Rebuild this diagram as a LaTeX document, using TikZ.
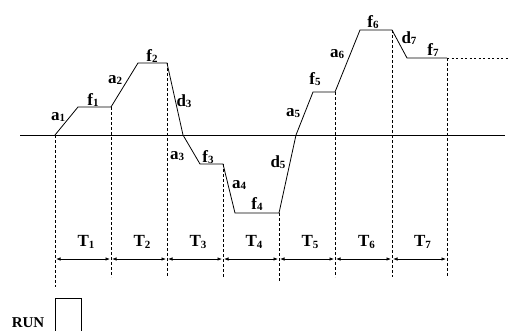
\documentclass[tikz,border=0pt]{standalone}
\usepackage{fontspec}
\setmainfont{Liberation Serif}
\usetikzlibrary{arrows.meta, positioning, calc}
\tikzset{
  profileline/.style={line width=0.8pt},
  holdline/.style={line width=0.6pt, dash pattern=on 2pt off 2.5pt},
  guideline/.style={line width=0.5pt, dash pattern=on 2.5pt off 2.5pt},
  spanarrow/.style={
    {Latex[length=4.5pt,width=3.5pt]}-{Latex[length=4.5pt,width=3.5pt]},
    line width=0.7pt, shorten <=1pt, shorten >=1pt
  },
  seglabel/.style={font=\bfseries\fontsize{17}{17}\selectfont, inner sep=0pt},
  spanlabel/.style={seglabel, midway, yshift=17pt, xshift=3pt},
  runbox/.style={draw, line width=0.6pt, minimum width=26pt,
    minimum height=40pt, inner sep=0pt, anchor=north west},
}
\newcommand{\seg}[2]{#1\raisebox{-0.2ex}{\fontsize{11}{11}\selectfont #2}}

\begin{document}
\begin{tikzpicture}[x=1pt, y=-1pt]
  \useasboundingbox (0,0) rectangle (510,330);

  % Profile corners
  \coordinate (p0) at (55,135);
  \coordinate (p1) at (78,107);
  \coordinate (p2) at (111,107);
  \coordinate (p3) at (138,63);
  \coordinate (p4) at (167,63);
  \coordinate (p5) at (183,135);
  \coordinate (p6) at (200,164);
  \coordinate (p7) at (223,164);
  \coordinate (p8) at (235,213);
  \coordinate (p9) at (279,213);
  \coordinate (p10) at (296,135);
  \coordinate (p11) at (313,92);
  \coordinate (p12) at (335,92);
  \coordinate (p13) at (360,30);
  \coordinate (p14) at (392,30);
  \coordinate (p15) at (407,58);
  \coordinate (p16) at (447,58);
  \coordinate (hold) at (510,58);

  % Axis
  \coordinate (axisL) at (20,135);
  \coordinate (axisR) at (505,135);
  \draw[profileline] (axisL) -- (axisR);

  % Profile
  \draw[profileline] (p0) -- (p1) -- (p2) -- (p3) -- (p4) -- (p5) -- (p6)
    -- (p7) -- (p8) -- (p9) -- (p10) -- (p11) -- (p12) -- (p13) -- (p14)
    -- (p15) -- (p16);
  \draw[holdline] (p16) -- (hold);

  % Segment labels
  \node[seglabel] (a1) at (58,117) {\seg{a}{1}};
  \node[seglabel] (f1) at (93,100) {\seg{f}{1}};
  \node[seglabel] (a2) at (115,80) {\seg{a}{2}};
  \node[seglabel] (f2) at (152,56) {\seg{f}{2}};
  \node[seglabel] (d3) at (184,101) {\seg{d}{3}};
  \node[seglabel] (a3) at (177,156) {\seg{a}{3}};
  \node[seglabel] (f3) at (208,157) {\seg{f}{3}};
  \node[seglabel] (a4) at (239,185) {\seg{a}{4}};
  \node[seglabel] (f4) at (257,204) {\seg{f}{4}};
  \node[seglabel] (d5) at (278,162) {\seg{d}{5}};
  \node[seglabel] (a5) at (293,113) {\seg{a}{5}};
  \node[seglabel] (f5) at (315,79) {\seg{f}{5}};
  \node[seglabel] (a6) at (337,54) {\seg{a}{6}};
  \node[seglabel] (f6) at (373,22) {\seg{f}{6}};
  \node[seglabel] (d7) at (409,38) {\seg{d}{7}};
  \node[seglabel] (f7) at (433,50) {\seg{f}{7}};

  % Period guides
  \coordinate (g0) at (55,287);
  \coordinate (g1) at (111,277);
  \coordinate (g2) at (167,277);
  \coordinate (g3) at (223,277);
  \coordinate (g4) at (279,281);
  \coordinate (g5) at (335,277);
  \coordinate (g6) at (392,277);
  \coordinate (g7) at (447,277);
  \foreach \top/\bot in {p0/g0, p2/g1, p4/g2, p7/g3, p9/g4, p12/g5, p14/g6, p16/g7}
    \draw[guideline] (\top) -- (\bot);

  % Period spans
  \foreach \x [count=\i from 0] in {55,111,167,223,279,335,392,447}
    \coordinate (t\i) at (\x,259);
  \foreach \a/\b/\n in {t0/t1/1, t1/t2/2, t2/t3/3, t3/t4/4, t4/t5/5, t5/t6/6, t6/t7/7}
    \draw[spanarrow] (\a) -- node[spanlabel] (T\n) {\seg{T}{\n}} (\b);

  % Run indicator
  \node[seglabel, font=\bfseries\fontsize{15}{15}\selectfont] (run) at (28,323) {RUN};
  \node[runbox] (runbox) at (55,298) {};
\end{tikzpicture}
\end{document}
